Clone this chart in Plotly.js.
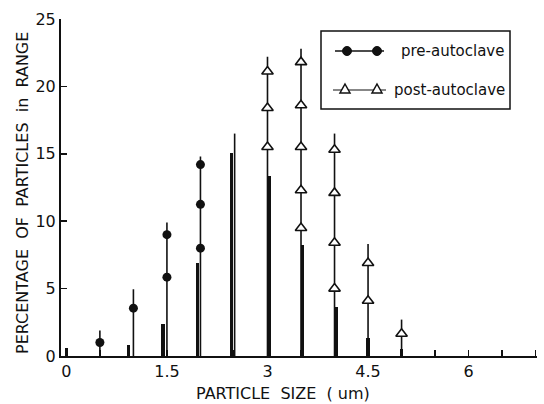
<!DOCTYPE html>
<html>
<head>
<meta charset="utf-8">
<script src="https://cdn.plot.ly/plotly-3.0.1.min.js"></script>
<style>html,body{margin:0;padding:0;background:#fff;}#chart{width:544px;height:404px;}</style>
</head>
<body>
<div id="chart"></div>
<script>
// ---- data ----
const barX = [0.0, 0.93, 1.44, 1.96, 2.46, 3.02, 3.52, 4.02, 4.5, 5.0];
const barY = [0.6, 0.84, 2.4, 6.9, 15.05, 13.35, 8.2, 3.6, 1.35, 0.55];

const preStemX = [0.5, 1.0, 1.5, 2.0, 2.51];
const preStemTop = [1.9, 4.95, 9.9, 14.8, 16.5];
const preX = [0.5, 1.0, 1.5, 1.5, 2.0, 2.0, 2.0];
const preY = [1.0, 3.55, 5.85, 9.0, 8.0, 11.25, 14.2];

const postStemX = [3.0, 3.5, 4.0, 4.5, 5.0];
const postStemTop = [22.2, 22.8, 16.5, 8.3, 2.7];
const postX = [3.0, 3.0, 3.0, 3.5, 3.5, 3.5, 3.5, 3.5, 4.0, 4.0, 4.0, 4.0, 4.5, 4.5, 5.0];
const postY = [15.5, 18.4, 21.1, 9.5, 12.3, 15.5, 18.6, 21.8, 5.0, 8.4, 12.1, 15.3, 4.1, 6.9, 1.65];

const xTickVals = [0, 0.5, 1, 1.5, 2, 2.5, 3, 3.5, 4, 4.5, 5, 5.5, 6, 6.5, 7];
const xTickText = ['0', '', '', '1.5', '', '', '3', '', '', '4.5', '', '', '6', '', ''];
const yTickVals = [0, 5, 10, 15, 20, 25];

const FONT = 'DejaVu Sans, Liberation Sans, sans-serif';

function zeros(a){ return a.map(() => 0); }

const traces = [
  { type: 'bar', x: barX, y: barY, width: 0.05, marker: {color: '#111', line: {width: 0}},
    showlegend: false, hoverinfo: 'skip' },
  { type: 'scatter', mode: 'markers', x: preStemX, y: zeros(preStemX),
    marker: {size: 1, color: 'rgba(0,0,0,0)'},
    error_y: {type: 'data', symmetric: false, array: preStemTop, arrayminus: zeros(preStemX),
              width: 0, thickness: 1.6, color: '#111'},
    showlegend: false, hoverinfo: 'skip' },
  { type: 'scatter', mode: 'markers', x: postStemX, y: zeros(postStemX),
    marker: {size: 1, color: 'rgba(0,0,0,0)'},
    error_y: {type: 'data', symmetric: false, array: postStemTop, arrayminus: zeros(postStemX),
              width: 0, thickness: 1.6, color: '#111'},
    showlegend: false, hoverinfo: 'skip' },
  { type: 'scatter', mode: 'markers', name: 'pre-autoclave', x: preX, y: preY,
    marker: {symbol: 'circle', size: 9, color: '#111'}, showlegend: false },
  { type: 'scatter', mode: 'markers', name: 'post-autoclave', x: postX, y: postY,
    marker: {symbol: 'triangle-up', size: 10, color: '#fff', line: {color: '#111', width: 1.6}},
    showlegend: false }
];

// pixel -> paper helpers for the hand-drawn legend box
const L = 61, R = 537, T = 19, B = 356;
function px(x){ return (x - L) / (R - L); }
function py(y){ return (B - y) / (B - T); }
function tri(cx, cy){
  return 'M ' + px(cx) + ' ' + py(cy - 5) + ' L ' + px(cx + 5) + ' ' + py(cy + 4) +
         ' L ' + px(cx - 5) + ' ' + py(cy + 4) + ' Z';
}
function circ(cx, cy, r){
  return {type: 'circle', xref: 'paper', yref: 'paper', x0: px(cx - r), x1: px(cx + r),
          y0: py(cy + r), y1: py(cy - r), fillcolor: '#111', line: {color: '#111', width: 1}};
}

const shapes = [
  {type: 'rect', xref: 'paper', yref: 'paper', x0: px(321), x1: px(510), y0: py(109), y1: py(31),
   line: {color: '#111', width: 1.5}, fillcolor: 'rgba(0,0,0,0)'},
  {type: 'line', xref: 'paper', yref: 'paper', x0: px(335), x1: px(384), y0: py(51), y1: py(51),
   line: {color: '#111', width: 1.5}},
  circ(347, 51, 4.5), circ(377, 51, 4.5),
  {type: 'line', xref: 'paper', yref: 'paper', x0: px(333), x1: px(386), y0: py(90), y1: py(90),
   line: {color: '#111', width: 1.2}},
  {type: 'path', xref: 'paper', yref: 'paper', path: tri(345, 89), fillcolor: '#fff', line: {color: '#111', width: 1.5}},
  {type: 'path', xref: 'paper', yref: 'paper', path: tri(377, 89), fillcolor: '#fff', line: {color: '#111', width: 1.5}}
];

const annotations = [
  {xref: 'paper', yref: 'paper', x: px(399), y: py(51), xanchor: 'left', yanchor: 'middle',
   text: 'pre-autoclave', showarrow: false, font: {family: FONT, size: 15, color: '#111'}},
  {xref: 'paper', yref: 'paper', x: px(392), y: py(90), xanchor: 'left', yanchor: 'middle',
   text: 'post-autoclave', showarrow: false, font: {family: FONT, size: 15, color: '#111'}},
  {xref: 'paper', yref: 'paper', x: px(283), y: py(394), xanchor: 'center', yanchor: 'middle',
   text: 'PARTICLE  SIZE  ( um)', showarrow: false, font: {family: FONT, size: 16, color: '#111'}},
  {xref: 'paper', yref: 'paper', x: px(22), y: py(193), xanchor: 'center', yanchor: 'middle',
   textangle: -90, text: 'PERCENTAGE  OF  PARTICLES  in  RANGE', showarrow: false,
   font: {family: FONT, size: 16, color: '#111'}}
];

const layout = {
  width: 544, height: 404,
  margin: {l: L, r: 544 - R, t: T, b: 404 - B, pad: 0},
  paper_bgcolor: '#fff', plot_bgcolor: '#fff',
  showlegend: false,
  bargap: 0,
  font: {family: FONT, color: '#111'},
  xaxis: {
    range: [-0.08, 7.02], tickmode: 'array', tickvals: xTickVals, ticktext: xTickText,
    ticks: 'inside', ticklen: 6, tickwidth: 1.5, tickcolor: '#111',
    showline: true, linecolor: '#111', linewidth: 2, showgrid: false, zeroline: false,
    tickfont: {family: FONT, size: 16, color: '#111'}, fixedrange: true
  },
  yaxis: {
    range: [0, 25], tickmode: 'array', tickvals: yTickVals,
    ticks: 'inside', ticklen: 6, tickwidth: 1.5, tickcolor: '#111',
    showline: true, linecolor: '#111', linewidth: 2, showgrid: false, zeroline: false,
    tickfont: {family: FONT, size: 16, color: '#111'}, fixedrange: true
  },
  shapes: shapes,
  annotations: annotations
};

Plotly.newPlot('chart', traces, layout, {displayModeBar: false, staticPlot: true});
</script>
</body>
</html>
